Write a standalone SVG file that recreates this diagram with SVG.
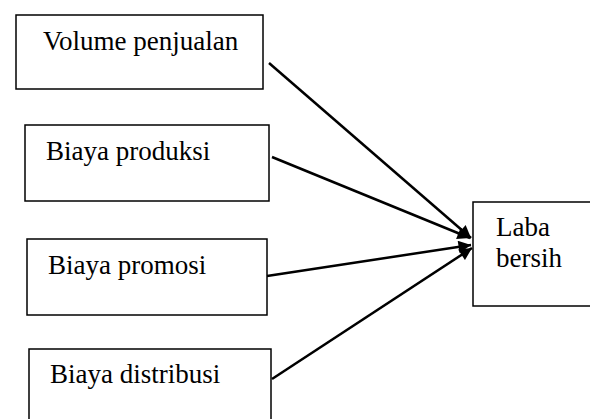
<svg xmlns="http://www.w3.org/2000/svg" width="590" height="419" viewBox="0 0 590 419">
<style>
.box{fill:#fff;stroke:#000;stroke-width:1.5}
.t{font-family:"Liberation Serif","Times New Roman",serif;font-size:27px;fill:#000}
.c{stroke:#000;stroke-width:2.5;fill:none}
</style>
<defs>
<marker id="ah" viewBox="0 0 10 10" refX="10" refY="5" markerWidth="6" markerHeight="5" orient="auto" markerUnits="strokeWidth">
<path d="M0,0 L10,5 L0,10 z" fill="#000"/>
</marker>
</defs>
<rect width="590" height="419" fill="#fff"/>
<g id="n1"><rect class="box" x="16" y="15" width="247" height="74"/><text class="t" x="43" y="50">Volume penjualan</text></g>
<g id="n2"><rect class="box" x="25" y="125" width="244" height="76"/><text class="t" x="46" y="160">Biaya produksi</text></g>
<g id="n3"><rect class="box" x="27" y="239" width="240" height="76"/><text class="t" x="48" y="274">Biaya promosi</text></g>
<g id="n4"><rect class="box" x="29" y="349" width="242" height="80"/><text class="t" x="50" y="383">Biaya distribusi</text></g>
<g id="n5"><rect class="box" x="473" y="202" width="125" height="104"/><text class="t" x="496" y="236">Laba</text><text class="t" x="496" y="267">bersih</text></g>
<g id="connectors">
<line class="c" x1="269" y1="63" x2="471" y2="238" marker-end="url(#ah)"/>
<line class="c" x1="272" y1="157" x2="470" y2="238" marker-end="url(#ah)"/>
<line class="c" x1="267" y1="276" x2="471" y2="245" marker-end="url(#ah)"/>
<line class="c" x1="272" y1="379" x2="472" y2="248" marker-end="url(#ah)"/>
</g>
</svg>
